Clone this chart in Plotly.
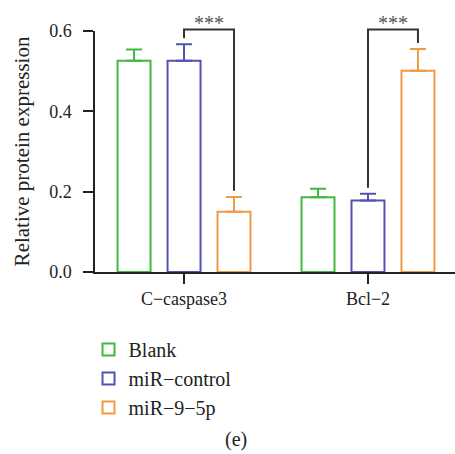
import plotly.graph_objects as go

categories = ["C\u2212caspase3", "Bcl\u22122"]
series_names = ["Blank", "miR\u2212control", "miR\u22129\u22125p"]
blank_vals = [0.526, 0.186]
blank_err = [0.028, 0.021]
ctrl_vals = [0.526, 0.178]
ctrl_err = [0.041, 0.017]
mir_vals = [0.150, 0.501]
mir_err = [0.037, 0.054]
y_ticks = [0.0, 0.2, 0.4, 0.6]
sig_label = "***"

colors = ["#3fba3f", "#5252b3", "#f09a45"]
FONT = "Liberation Serif"

bargap = 0.185
bargroupgap = 0.34
slot = (1 - bargap) / 3
y_max = y_ticks[-1]


def to_paper(v):
    # y-axis range [0, y_max] spans the whole plot domain
    return v / y_max


fig = go.Figure()
xs = list(range(len(categories)))
for name, vals, err, col in zip(series_names,
                                [blank_vals, ctrl_vals, mir_vals],
                                [blank_err, ctrl_err, mir_err], colors):
    fig.add_trace(go.Bar(
        x=xs, y=vals, name=name,
        marker=dict(color="rgba(255,255,255,0)", line=dict(color=col, width=2)),
        error_y=dict(type="data", symmetric=False, array=err,
                     arrayminus=[0] * len(vals), color=col, thickness=2, width=8),
    ))

# significance brackets: miR-control vs miR-9-5p in each category
level = 0.604
gap = 0.015
for i in xs:
    xl = i + 0 * slot
    xr = i + 1 * slot
    yl = ctrl_vals[i] + ctrl_err[i] + gap
    yr = mir_vals[i] + mir_err[i] + gap
    fig.add_shape(type="path", xref="x", yref="paper",
                  path=f"M{xl},{to_paper(yl)} L{xl},{to_paper(level)} "
                       f"L{xr},{to_paper(level)} L{xr},{to_paper(yr)}",
                  line=dict(color="#333333", width=2))
    fig.add_annotation(x=(xl + xr) / 2, y=to_paper(level), xref="x", yref="paper",
                       text=sig_label, showarrow=False, yanchor="bottom", yshift=-7,
                       font=dict(family=FONT, size=20, color="#555555"))

fig.add_annotation(x=0.392, y=-0.752, xref="paper", yref="paper", yanchor="bottom",
                   xanchor="center", text="(e)", showarrow=False,
                   font=dict(family=FONT, size=20, color="#222222"))

fig.update_layout(
    width=455, height=454,
    margin=dict(l=95, r=0, t=31, b=182),
    paper_bgcolor="white", plot_bgcolor="white",
    barmode="group", bargap=bargap, bargroupgap=bargroupgap,
    font=dict(family=FONT, size=18, color="#222222"),
    showlegend=True,
    legend=dict(x=-0.018, y=-0.241, xanchor="left", yanchor="top",
                font=dict(family=FONT, size=20, color="#222222"),
                bgcolor="rgba(0,0,0,0)"),
    xaxis=dict(range=[-0.484, 1.473], tickvals=xs, ticktext=categories,
               showline=True, linecolor="#222222", linewidth=1.5,
               ticks="outside", ticklen=10, tickwidth=1.5, tickcolor="#222222",
               showgrid=False, zeroline=False, automargin=False),
    yaxis=dict(range=[0, y_max], tickvals=y_ticks, ticktext=[f"{v:.1f}" for v in y_ticks],
               showline=True, linecolor="#222222", linewidth=1.5,
               ticks="outside", ticklen=10, tickwidth=1.5, tickcolor="#222222",
               ticklabelstandoff=8, automargin=False,
               showgrid=False, zeroline=False,
               title=dict(text="Relative protein expression", standoff=14,
                          font=dict(family=FONT, size=21))),
)

fig.write_html("out.html", config={"displayModeBar": False},
               post_script="document.body.style.margin='0';")
